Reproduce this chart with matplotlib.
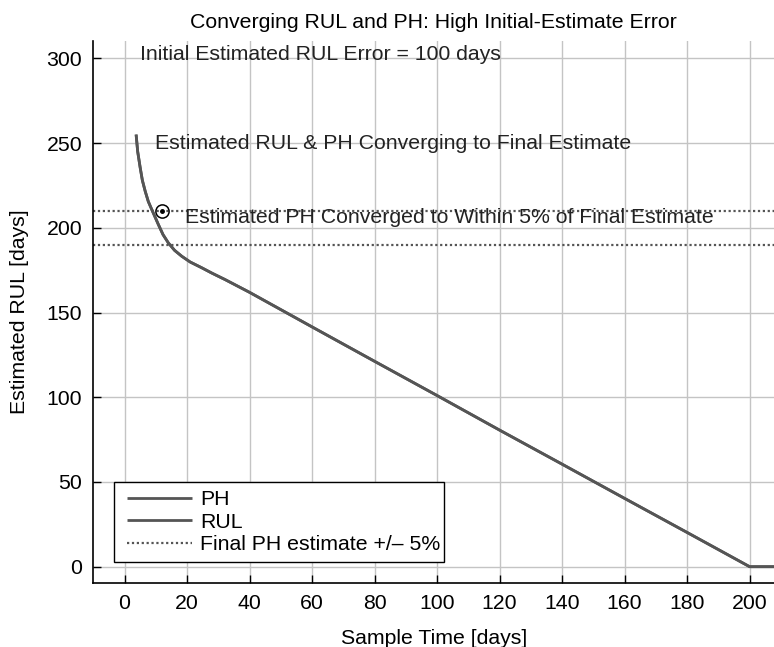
import matplotlib
matplotlib.use("Agg")
import matplotlib.pyplot as plt
from matplotlib.lines import Line2D
from matplotlib.legend_handler import HandlerLine2D

# ---- data ----
sample_time = [3.7, 4.2, 5.0, 5.7, 6.6, 7.6, 8.7, 10.8, 12.3, 14.0, 16.0, 18.3,
               21.0, 24.7, 28.0, 32.2, 40, 60, 80, 100, 120, 140, 160, 180, 200, 208]
rul_est = [255, 245, 235.5, 228, 221.6, 215.5, 210.8, 202, 196, 191.1, 186.7, 183.2,
           179.8, 176.4, 173.2, 169.4, 161.9, 141.5, 121.2, 101, 80.6, 60.5, 40.3, 20.2, 0, 0]
ph_est = rul_est  # PH curve drawn on top of the RUL curve
final_ph = 200
band_upper = 210
band_lower = 190
converge_point = (12, 210)

x_ticks = list(range(0, 201, 20))
y_ticks = list(range(0, 301, 50))

plt.rcParams['font.family'] = ['Liberation Sans', 'DejaVu Sans']
FS = 15.3

fig = plt.figure(figsize=(7.74, 6.47), dpi=100)
ax = fig.add_axes([93.3 / 774, 63.7 / 647, 1 - 93.3 / 774, (583.3 - 40.7) / 647])

line_col = '#555555'
ax.plot(sample_time, ph_est, color=line_col, lw=2.0, label='PH', solid_capstyle='butt')
ax.plot(sample_time, rul_est, color=line_col, lw=2.0, label='RUL', solid_capstyle='butt')
ax.axhline(band_upper, color=line_col, lw=1.6, ls=(0, (1, 1.2)), label='Final PH estimate +/\u2013 5%')
ax.axhline(band_lower, color=line_col, lw=1.6, ls=(0, (1, 1.2)))

ax.plot([converge_point[0]], [converge_point[1]], marker='o', ms=9.5, mfc='none',
        mec='black', mew=1.1, ls='none')
ax.plot([converge_point[0]], [converge_point[1]], marker='o', ms=2.5, mfc='black',
        mec='black', ls='none')

ax.set_xlim(-10, 207.8)
ax.set_ylim(-9.8, 310.4)
ax.set_xticks(x_ticks)
ax.set_yticks(y_ticks)
ax.grid(True, color='#c4c4c4', lw=1.0)
ax.set_axisbelow(True)
ax.tick_params(direction='in', length=6, width=1.0, labelsize=FS, pad=8, colors='black')
for s in ['top', 'right']:
    ax.spines[s].set_visible(False)
for s in ['left', 'bottom']:
    ax.spines[s].set_linewidth(1.2)

ax.set_xlabel('Sample Time [days]', fontsize=FS, labelpad=11)
ax.set_ylabel('Estimated RUL [days]', fontsize=FS, labelpad=13)
ax.set_title('Converging RUL and PH: High Initial-Estimate Error', fontsize=FS, pad=9)

ax.text(4.8, 302, 'Initial Estimated RUL Error = 100 days', fontsize=FS, va='center', ha='left', color='#222222')
ax.text(9.9, 250, 'Estimated RUL & PH Converging to Final Estimate', fontsize=FS, va='center', ha='left', color='#222222')
ax.text(19.5, 205.9, 'Estimated PH Converged to Within 5% of Final Estimate', fontsize=FS, va='center', ha='left', color='#222222')

leg = ax.legend(loc='upper left', bbox_to_anchor=(0.0304, 0.186, 0.485, 0.0), mode='expand',
                fontsize=15.3, frameon=True, fancybox=False, edgecolor='black', framealpha=1,
                borderpad=0.36, labelspacing=0.17, handlelength=3.33, handletextpad=0.35,
                borderaxespad=0, handler_map={Line2D: HandlerLine2D(xpad=0.27)})
leg.get_frame().set_linewidth(1.0)

fig.savefig('out.png', dpi=100)
